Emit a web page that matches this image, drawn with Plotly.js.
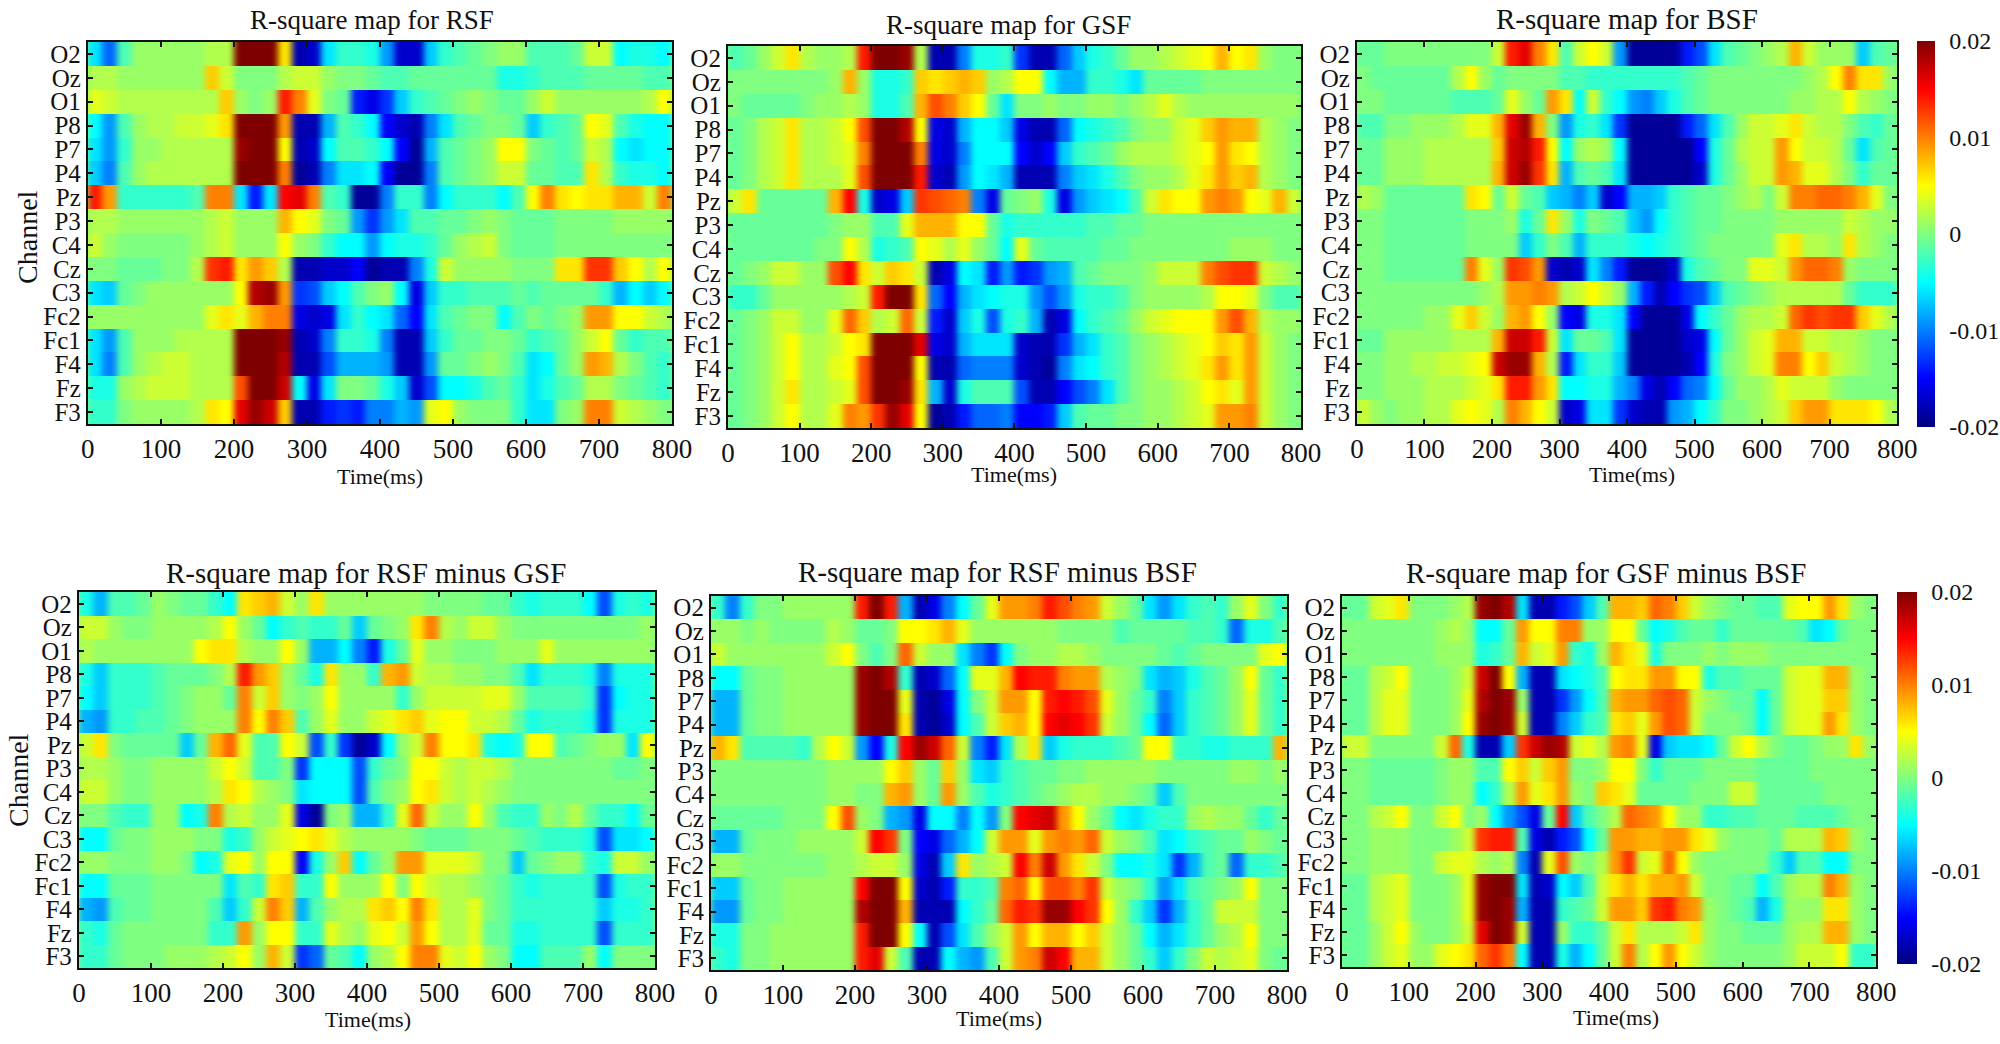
<!DOCTYPE html>
<html><head><meta charset="utf-8">
<script src="https://cdn.plot.ly/plotly-3.0.1.min.js"></script>
<style>html,body{margin:0;padding:0;background:#fff}#c{width:2000px;height:1044px}#c .hm image{filter:url(#hb)}</style></head>
<body><svg width="0" height="0" style="position:absolute"><filter id="hb" x="-5%" y="0%" width="110%" height="100%" color-interpolation-filters="sRGB"><feGaussianBlur stdDeviation="3 0"/></filter></svg><div id="c"></div>
<script>
const channels=["O2","Oz","O1","P8","P7","P4","Pz","P3","C4","Cz","C3","Fc2","Fc1","F4","Fz","F3"];
const times=[10,30,50,70,90,110,130,150,170,190,210,230,250,270,290,310,330,350,370,390,410,430,450,470,490,510,530,550,570,590,610,630,650,670,690,710,730,750,770,790];
const timeTicks=[0,100,200,300,400,500,600,700,800];
const scaleTicks=[-0.02,-0.01,0,0.01,0.02];
const scaleLabels=["-0.02","-0.01","0","0.01","0.02"];
const rsf=[
[-6,-11,-2,1,1,1,1,1,2,2,20,20,20,6,-18,-17,-6,-3,-3,-4,-9,-17,-17,-7,-3,-2,-1,0,1,1,-2,-2,-2,-1,3,3,-5,-4,-4,-5],
[2,2,1,1,1,1,1,1,7,3,0,0,0,2,3,3,1,0,0,-1,-2,-2,-1,-1,-1,-1,-1,-1,-4,-4,-3,-2,-2,-2,-1,-1,-1,-1,-2,-2],
[4,3,2,2,2,2,2,2,2,7,1,0,1,14,10,4,0,-1,-14,-16,-13,-7,-3,-2,-1,0,1,0,-1,-1,1,3,1,1,1,1,1,1,2,5],
[-5,-9,-2,1,2,2,3,3,4,6,20,20,20,9,-18,-18,-8,-2,-3,-5,-15,-17,-18,-10,-6,-2,-1,0,0,-1,-7,-3,-2,-1,5,4,-2,-4,-5,-5],
[-6,-9,-3,1,1,2,2,2,2,2,19,20,20,5,-18,-17,-5,-2,-2,-3,-5,-15,-19,-8,-2,-1,0,1,5,5,0,-1,-2,-1,3,2,-5,-6,-5,-5],
[-7,-10,-2,1,2,2,2,2,2,2,20,20,20,10,-19,-18,-10,-6,-6,-5,-15,-19,-19,-10,-2,-1,0,1,3,3,-1,-1,-2,-2,6,2,-3,-4,-4,-5],
[14,9,-3,-3,-3,-3,-3,-2,10,10,-6,-14,-6,15,16,10,-2,-3,-19,-19,-10,-3,-3,-10,-5,-3,-3,-3,-5,-2,5,10,6,5,6,6,8,8,3,10],
[2,2,1,1,1,1,1,1,2,3,1,1,1,8,5,4,0,-1,-9,-13,-9,-6,-2,-2,-1,-1,0,1,0,-1,-1,-1,0,0,0,0,1,1,1,1],
[3,1,0,0,0,0,0,1,2,3,1,1,1,5,1,0,-3,-5,-5,-9,-5,-4,-4,-3,-1,1,2,3,0,-1,-1,-1,0,0,0,0,0,0,0,0],
[0,0,-1,-1,-1,0,0,2,13,14,6,9,7,2,-18,-18,-17,-17,-15,-19,-18,-18,-10,-4,3,1,1,1,1,0,0,0,6,6,13,13,7,5,2,5],
[-6,-7,-1,0,1,1,1,1,1,1,5,18,19,9,-13,-12,-7,-5,-2,0,1,-5,-16,-7,-3,-3,-2,-2,-2,-1,-2,-1,-1,-1,-1,-3,-8,-5,-7,-5],
[1,1,1,1,1,1,1,1,4,6,4,8,10,10,-16,-17,-16,-6,-3,-5,-6,-11,-15,-6,-2,-1,0,0,-5,-2,0,-1,0,1,9,9,5,5,3,2],
[-6,-9,-2,1,1,1,2,2,2,2,20,20,20,19,-18,-17,-10,-3,-3,-4,-10,-18,-18,-7,-3,-1,-1,0,0,-1,-3,-2,-1,1,3,5,-1,-3,-2,-2],
[-6,-10,-2,1,2,3,3,2,2,2,20,20,20,18,-18,-18,-12,-8,-8,-8,-9,-18,-18,-9,-1,-1,0,1,0,-2,-6,-5,-1,1,9,8,2,0,-2,-3],
[-4,-4,1,2,3,3,3,2,2,2,12,20,20,17,-5,-16,-6,0,0,-1,-4,-7,-17,-12,-5,-5,-4,-2,-1,-3,-6,-4,-2,-1,2,2,0,-1,-2,-3],
[-3,-3,0,1,1,1,1,2,6,5,16,19,17,7,-18,-18,-14,-13,-14,-10,-10,-8,-9,4,5,1,0,0,0,-3,-6,-6,0,1,10,10,3,2,1,0]];
const gsf=[
[-2,-1,1,3,6,2,1,1,2,14,20,20,19,2,-18,-18,-10,-4,-4,-3,-13,-18,-18,-11,-7,-4,-3,-1,1,1,2,3,4,5,8,5,6,1,0,0],
[0,0,0,0,0,0,0,1,8,1,-4,-4,-3,7,6,7,8,7,1,2,5,5,-5,-8,-8,-3,-3,-4,-6,-1,-1,-1,-1,0,0,0,0,0,0,0],
[0,-1,-1,-1,-1,0,1,1,2,1,-4,-4,-2,8,12,10,7,5,-1,-6,0,0,1,0,0,1,1,0,1,2,4,2,1,1,1,1,1,1,1,1],
[-1,0,2,3,6,2,2,3,5,12,20,20,18,5,-16,-17,-8,-5,-5,-7,-16,-18,-18,-11,-5,-4,-3,-2,0,1,1,3,4,7,9,8,8,2,1,0],
[-1,0,2,3,6,2,2,3,4,10,20,20,20,10,-16,-17,-10,-5,-5,-5,-15,-17,-15,-7,-3,-2,-1,1,2,2,2,3,4,5,9,6,5,2,1,0],
[-1,0,2,3,6,2,2,2,4,12,20,20,20,14,-17,-18,-9,-5,-6,-8,-18,-18,-18,-10,-7,-6,-4,-2,0,1,1,2,4,6,9,7,8,2,1,0],
[3,6,-1,-1,-1,-1,-1,8,15,-4,-17,-16,-7,13,12,11,10,-10,-16,-1,0,1,-4,-16,-9,-7,-6,-5,-2,3,6,5,5,9,10,9,5,4,8,3],
[-1,-1,-1,-1,-1,-1,-1,0,1,1,-2,-2,4,8,8,8,5,5,-1,-4,-3,-3,-3,-3,-3,-2,-2,-1,-1,0,0,0,0,0,0,0,0,0,0,0],
[-1,-1,-1,-1,-1,-1,0,0,5,2,-4,-3,-2,5,4,2,4,1,-1,-5,4,-1,-2,-2,-2,-2,-1,-1,0,0,0,0,0,0,0,1,1,1,0,0],
[-1,0,1,3,3,1,1,12,15,6,3,7,6,3,-18,-16,-5,-6,-14,-9,-14,-13,-9,-8,-2,-1,0,0,0,1,3,3,3,10,12,13,13,3,2,1],
[-3,-3,-1,1,1,1,1,1,2,3,14,20,20,6,-11,-15,-8,-6,-5,-4,-4,-9,-12,-9,-4,-3,-3,-2,0,1,1,1,1,2,5,5,4,0,-2,-2],
[-1,0,1,3,3,1,1,4,11,7,2,3,11,3,-14,-17,-7,-4,-12,-4,-3,-8,-18,-16,-5,-3,-2,-1,1,3,4,5,5,5,9,12,8,2,1,1],
[-1,0,1,3,5,2,2,3,5,6,20,20,20,16,-16,-17,-8,-6,-6,-6,-17,-18,-18,-13,-8,-6,-3,-2,0,1,2,3,4,5,7,6,9,3,1,0],
[-1,0,1,3,5,2,2,4,5,12,20,20,20,5,-18,-18,-11,-10,-10,-10,-17,-18,-19,-10,-6,-5,-3,-2,0,1,2,3,4,6,9,6,9,3,1,0],
[-1,0,1,3,6,2,2,3,4,12,20,20,19,6,-8,-17,-4,-2,-2,-2,-12,-18,-18,-15,-12,-10,-6,-2,0,1,1,2,3,5,6,4,9,3,1,0],
[-1,0,1,3,5,2,2,4,10,9,13,19,16,5,-19,-18,-14,-11,-11,-10,-15,-15,-14,-7,-2,-1,-1,0,0,1,1,2,3,4,9,9,10,3,1,0]];
const bsf=[
[-1,-1,0,0,0,0,0,0,0,0,3,14,16,10,6,-2,3,5,3,-9,-19,-19,-19,-19,-14,-12,-6,-2,-1,0,1,2,8,3,1,1,1,-7,-2,-1],
[0,-1,-1,-1,-1,-1,-1,2,5,1,-1,0,0,0,0,-2,-2,-3,-3,-3,-3,-3,-3,-3,-2,-1,0,0,0,0,0,0,0,1,2,5,10,6,6,1],
[0,0,-1,-1,-1,-1,-1,-2,-2,-2,-1,4,1,-1,9,6,-5,3,-3,-5,-9,-10,-7,-4,-2,-1,0,0,0,0,0,0,1,1,2,2,5,2,1,0],
[-2,-2,0,0,1,1,1,2,4,4,8,16,19,8,0,-9,-4,-3,-6,-13,-19,-19,-19,-19,-14,-11,-6,-2,1,3,3,4,6,3,2,2,0,-2,-3,-1],
[-1,-1,1,1,1,2,2,2,2,2,7,17,18,14,5,-5,1,2,1,-5,-19,-19,-19,-19,-19,-15,-4,-1,2,3,3,9,5,3,3,2,-1,-6,-2,-1],
[-1,-1,1,1,1,2,2,2,2,2,8,17,19,13,6,-8,-2,-1,-2,-6,-19,-19,-19,-19,-19,-17,-4,-1,1,3,3,9,8,4,4,2,0,-3,-1,-1],
[2,1,-1,-1,-1,-1,-1,-1,6,5,-1,3,-1,-2,-7,-8,-10,-7,-17,-15,-8,-8,-7,-3,-2,-1,-1,0,1,2,0,3,10,10,11,11,10,8,4,0],
[0,0,-1,-1,-1,-1,-1,-1,0,0,0,1,-4,-1,6,1,-4,0,-1,-2,-7,-9,-5,-3,-2,-1,-1,0,0,0,0,1,1,1,1,1,3,2,1,1],
[0,0,-1,-1,-1,-1,-1,-1,0,0,0,0,-7,-3,0,-2,-8,-3,-3,-3,-4,-5,-4,-3,-2,-1,0,0,0,0,0,4,6,2,2,1,6,2,1,0],
[0,0,-1,-1,-1,-1,-1,-1,10,4,1,13,12,9,-17,-18,-17,-6,-10,-14,-19,-19,-19,-17,-4,-2,-1,0,0,4,4,3,9,11,11,10,1,0,0,0],
[0,0,0,0,0,0,0,0,0,1,2,9,9,10,9,2,3,5,3,1,-8,-14,-18,-15,-13,-12,-7,-2,-1,0,1,2,2,2,2,2,-1,-3,-3,-3],
[0,0,0,0,0,1,1,4,7,3,1,8,9,5,1,-15,-16,-4,-4,-6,-15,-19,-19,-19,-16,-5,-3,-1,1,2,2,3,11,13,12,13,13,7,4,2],
[-1,-1,1,1,1,1,1,2,2,2,8,17,17,14,3,-6,-1,-1,-2,-6,-19,-19,-19,-19,-17,-16,-5,-1,1,3,4,8,8,3,3,2,2,1,0,0],
[0,0,1,1,2,2,3,3,4,5,17,19,19,8,2,-14,-6,-3,-3,-7,-19,-19,-19,-19,-18,-15,-4,0,1,3,4,10,10,5,7,3,2,1,0,0],
[0,0,1,1,1,2,2,2,3,4,6,14,14,9,6,-5,-5,-4,-4,-8,-10,-16,-18,-15,-11,-10,-5,-1,1,1,2,4,3,3,3,1,0,0,0,0],
[3,1,0,1,1,2,2,4,5,4,2,10,8,5,3,-17,-16,-6,-6,-13,-17,-18,-18,-9,-8,-5,-3,0,0,1,2,3,7,9,9,6,6,6,5,2]];
const rsfMinusGsf=[
[-4,-8,-2,-2,-1,1,0,-1,-1,-3,-5,6,7,8,3,1,6,1,1,1,1,1,1,1,0,0,0,0,-1,-1,-3,-4,-3,-3,-3,-5,-12,-4,-3,-4],
[3,3,1,0,0,1,1,1,1,2,5,1,-1,-5,-3,-2,-3,-3,-1,-7,-1,0,1,6,10,2,1,3,3,1,0,0,0,0,0,0,0,0,0,1],
[2,1,1,1,1,1,1,1,5,6,6,2,1,1,5,1,-8,-8,-5,-10,-14,-4,-1,4,1,1,0,0,0,1,1,1,4,1,1,1,1,1,1,1],
[-4,-7,-3,-3,-3,-2,-1,-1,-1,0,2,14,9,7,1,-1,-4,6,1,1,-3,8,9,3,2,2,1,1,0,0,-2,-6,-3,-3,-3,-4,-10,-4,-4,-4],
[-5,-7,-3,-3,-3,-2,-1,0,1,1,-1,10,3,7,1,0,1,5,1,1,1,1,-3,1,3,3,3,3,4,4,1,-2,-2,-2,-2,-3,-13,-5,-4,-4],
[-8,-9,-3,-3,-2,-2,-1,0,1,1,1,10,5,10,7,-2,1,4,1,1,3,4,6,7,4,5,5,3,3,2,-1,-4,-3,-3,-3,-4,-13,-4,-4,-4],
[3,6,0,-1,-1,-1,-1,-7,-1,8,11,4,-2,-2,5,3,-12,-3,-13,-19,-17,-5,1,3,10,5,5,6,-4,-5,-4,5,5,-2,-1,0,1,1,-6,5],
[2,2,1,0,0,1,1,1,1,3,5,3,-2,-2,0,-13,-5,-5,-5,-12,-3,-1,0,5,5,3,2,3,3,2,0,0,0,0,0,0,0,-1,-1,0],
[3,3,1,0,0,1,1,1,1,2,6,5,2,1,0,-6,-5,-5,-5,-12,-2,0,1,5,6,3,2,3,2,1,0,0,0,0,0,0,0,0,0,0],
[0,0,-2,-3,-3,1,1,-5,-4,10,2,3,1,1,4,-16,-19,0,1,-8,-8,-3,4,11,3,1,1,5,1,-2,-3,-3,1,0,2,-1,-3,-3,-5,-1],
[-5,-5,-1,0,0,1,1,1,0,0,-4,-3,1,3,4,5,6,4,2,1,1,1,1,0,-1,-1,-1,0,0,0,-1,-2,-3,-3,-3,-4,-12,-6,-6,-5],
[1,1,0,0,0,1,1,0,-5,-4,4,5,1,5,5,-15,-4,1,7,-5,-1,1,9,9,4,4,4,3,0,0,-7,-1,0,1,1,-3,-4,3,3,1],
[-5,-5,-1,-1,-1,0,0,0,0,0,-6,-2,-3,6,7,-3,-3,5,1,1,1,5,0,5,3,2,2,1,0,-1,-3,-4,-3,-3,-3,-3,-12,-4,-3,-3],
[-8,-9,-2,-1,-1,0,0,0,0,-2,-7,-3,3,10,7,-8,-2,1,2,2,6,7,5,10,6,2,2,4,0,-1,-3,-3,-3,-3,-3,-3,-7,-4,-4,-3],
[-3,-4,-1,0,0,0,0,0,0,-3,-3,9,1,5,5,-3,-3,4,2,1,4,5,3,9,5,2,2,4,-1,-1,-4,-4,-3,-3,-3,-3,-12,-3,-3,-3],
[-3,-3,-1,0,0,0,1,1,1,2,3,5,1,8,3,-13,-11,-1,-2,-5,1,2,5,10,10,4,3,5,1,0,-5,-5,-2,-2,-2,1,-5,0,0,0]];
const rsfMinusBsf=[
[-3,-10,-3,0,0,1,1,1,1,1,14,20,14,-8,-18,-16,-10,-5,-1,4,9,9,10,14,12,10,9,3,1,-1,-6,-9,-6,-3,-2,-3,1,4,0,-3],
[1,1,0,1,0,0,0,0,2,1,-1,-1,0,5,5,6,8,4,1,1,1,1,1,1,0,0,0,0,-2,-1,-1,-1,-1,-2,-2,-3,-11,-4,-4,-2],
[3,1,1,1,1,1,1,1,3,5,0,-2,0,11,3,1,1,-6,-10,-13,-5,0,1,1,2,2,1,0,0,0,0,-1,-2,-1,0,0,0,0,4,5],
[-5,-5,-1,0,0,1,1,1,1,1,19,20,18,-3,-18,-17,-11,-5,4,4,8,15,14,14,10,9,9,2,1,0,-6,-8,-7,-4,-2,-1,1,5,-1,-3],
[-8,-8,-1,0,0,1,1,1,1,1,19,20,20,4,-18,-19,-16,-5,0,3,9,9,5,14,15,14,12,4,1,-1,-3,-10,-7,-3,-2,-1,1,4,-1,-3],
[-8,-8,-1,0,0,1,1,1,1,1,19,20,20,6,-18,-19,-17,-5,-2,3,7,8,5,15,16,15,13,3,1,-1,-5,-11,-7,-3,-2,-1,1,4,-1,-3],
[8,6,-2,-2,-2,-2,-3,2,5,3,-9,-15,-4,15,19,17,11,3,-10,-14,-6,2,6,-7,-4,-3,-3,-3,-2,-1,5,5,-3,-3,-4,-4,-3,-3,-3,8],
[0,0,0,0,0,0,0,0,1,1,1,1,5,7,1,-1,7,1,-6,-7,-3,-2,-1,-1,0,0,1,1,1,1,1,0,0,0,0,0,1,1,0,1],
[0,0,0,0,0,0,0,0,1,1,0,0,8,9,1,-1,9,1,-2,-4,-3,-2,-1,0,1,2,2,1,1,0,-1,-7,-2,0,0,0,0,0,0,0],
[-1,-1,-1,-1,-1,0,0,0,5,12,1,0,-8,-9,-16,-5,-5,-10,-5,-9,0,15,16,17,9,5,1,-1,-5,-6,-4,-3,-3,1,2,1,1,-1,-3,-1],
[-8,-8,-1,0,0,0,1,1,1,1,3,15,13,0,-15,-16,-11,-8,-5,3,9,9,4,9,10,9,11,3,1,0,-2,-6,-5,-3,-2,-1,-1,1,0,-1],
[1,1,0,0,0,0,0,0,1,1,2,3,3,1,-16,-18,-7,6,1,2,3,15,10,17,9,6,3,0,-5,-5,-4,-6,-13,-8,-2,-1,-11,-3,-3,-2],
[-7,-7,-1,0,0,1,1,1,1,1,15,20,20,5,-17,-18,-14,-3,-3,-2,10,11,5,12,12,10,13,3,1,0,-3,-9,-6,-2,-1,0,1,5,0,0],
[-9,-9,-1,0,0,1,1,1,1,1,18,20,20,8,-18,-18,-18,-5,-3,-1,11,14,13,19,19,15,13,5,1,-3,-7,-13,-8,-3,-1,3,3,3,0,0],
[-4,-4,0,0,1,1,1,1,1,1,14,20,20,5,-5,-18,-12,-6,-2,1,3,9,5,8,8,5,7,3,1,-1,-5,-8,-6,-3,-1,1,2,5,0,0],
[-3,-4,0,0,1,1,1,1,1,1,14,16,3,-2,-18,-18,-5,-8,-9,-2,3,9,10,17,15,8,8,3,1,-1,-3,-7,-3,0,3,2,3,4,0,-1]];
const gsfMinusBsf=[
[-1,-1,3,4,6,0,0,0,1,2,19,20,18,-6,-18,-18,-14,-12,-7,-2,8,8,7,11,10,7,3,1,0,-1,-1,-2,-2,4,5,5,9,6,1,0],
[0,0,0,0,0,0,0,1,2,1,-5,-5,-1,9,5,5,10,10,1,1,5,5,-1,-5,-4,-2,-1,-1,-3,-1,-1,-1,-1,-1,-2,-6,-5,-1,0,0],
[0,0,0,0,0,0,0,1,1,1,-4,-3,-1,8,3,4,9,-3,-4,1,8,6,4,-4,0,0,0,1,0,1,1,1,0,0,0,0,0,0,0,0],
[-1,-1,2,3,5,0,0,0,1,3,17,20,5,-8,-18,-18,-6,-5,-4,-2,5,6,6,9,9,5,5,-4,-2,-2,-1,-1,-1,3,4,4,8,8,1,0],
[-1,-1,2,4,4,0,0,0,1,4,18,20,19,1,-18,-18,-13,-9,-5,-2,8,9,9,11,12,11,3,1,0,-1,-1,-5,-1,3,4,4,7,7,1,0],
[-1,-1,2,4,4,0,0,0,1,5,19,20,19,3,-18,-18,-10,-7,-3,-2,6,7,4,9,12,11,3,0,0,0,-1,-5,-1,3,4,4,9,6,1,0],
[3,3,0,0,0,0,0,3,11,-4,-18,-18,-7,13,17,19,18,3,4,2,9,10,4,-16,-7,-6,-6,-5,-1,3,5,2,0,-1,-1,0,1,1,6,1],
[0,0,-1,-1,-1,-1,-1,0,1,1,-2,-2,5,7,3,7,9,0,0,1,5,5,0,-3,-1,-1,-1,0,0,0,0,-1,-1,-1,-1,0,0,0,0,0],
[0,0,-1,-1,-1,-1,-1,0,1,1,-5,-3,2,9,4,6,9,1,0,7,6,4,-1,-1,-1,-1,0,0,0,3,3,-1,-1,-1,-1,-1,0,0,0,0],
[0,0,2,3,5,0,0,3,5,0,1,-5,-9,-12,-16,-1,15,-7,-2,0,2,11,10,9,5,1,1,-3,-3,-2,-2,-1,-1,-1,-2,-2,-2,-1,0,0],
[0,0,1,1,1,0,0,0,1,3,13,14,14,-2,-16,-18,-14,-12,-5,-1,9,9,8,8,9,9,6,4,1,0,0,0,-1,2,2,2,8,7,1,0],
[0,0,1,1,1,0,0,3,4,4,2,1,2,-10,-18,4,12,1,0,2,9,13,3,4,11,5,1,0,0,0,0,0,-3,-7,-2,-2,-5,-5,0,0],
[-1,-1,2,3,4,0,0,0,1,4,19,20,20,-6,-18,-17,-5,-7,-2,3,6,8,6,8,8,9,3,0,0,-1,-1,-5,-2,1,2,2,10,8,1,0],
[-1,-1,2,3,4,0,0,0,1,4,19,20,19,-8,-18,-18,-3,-2,-1,3,9,9,7,13,14,10,9,1,0,-1,-2,-8,-4,1,1,1,6,6,1,0],
[-1,-1,1,3,5,1,0,0,1,3,16,20,19,3,-18,-18,1,-3,-3,-1,3,6,2,2,2,3,6,1,0,0,-1,-1,-1,1,2,2,8,8,1,0],
[-1,-1,1,3,4,1,1,4,5,6,11,13,10,-5,-18,-18,-4,-8,-5,-1,3,10,2,5,9,5,3,1,0,0,0,0,0,1,3,3,3,5,-3,-3]];
const titles=["R-square map for RSF","R-square map for GSF","R-square map for BSF","R-square map for RSF minus GSF","R-square map for RSF minus BSF","R-square map for GSF minus BSF"];
const panels=[rsf,gsf,bsf,rsfMinusGsf,rsfMinusBsf,gsfMinusBsf];

const W=2000,H=1044;
const boxes=[[88,673,42,424],[729,1303,46,428],[1359,1900,42,424],[79,656,592,968],[712,1289,596,970],[1344,1879,596,967]];
const titlePos=[[373,20],[1010,25],[1629,19],[367,573],[999,572],[1608,573]];
const xLabelPos=[[381,477],[1016,475],[1634,475],[369,1019],[1001,1018],[1618,1017]];
const FONT="Liberation Serif";
const ink="#111";
const jet=[[0,"rgb(0,0,127)"],[0.125,"rgb(0,0,255)"],[0.375,"rgb(0,255,255)"],[0.625,"rgb(255,255,0)"],[0.875,"rgb(255,0,0)"],[1,"rgb(127,0,0)"]];
const bars={2:{left:1920,right:1938,top:41,bottom:427},5:{left:1900,right:1920,top:592,bottom:964}};

const traces=[],annotations=[];
const layout={width:W,height:H,margin:{l:0,r:0,t:0,b:0},paper_bgcolor:"#fff",plot_bgcolor:"#80ff80",showlegend:false,font:{family:FONT,color:ink}};
panels.forEach((p,i)=>{
  const n=i===0?"":String(i+1), b=boxes[i];
  const tr={type:"heatmap",x:times,y:channels,z:p.map(r=>r.map(v=>v/1000)),xaxis:"x"+n,yaxis:"y"+n,
    zmin:-0.02,zmax:0.02,colorscale:jet,zsmooth:false,showscale:i in bars};
  if(bars[i]){const c=bars[i];tr.colorbar={x:c.left/W,xanchor:"left",xpad:0,y:1-c.bottom/H,yanchor:"bottom",ypad:0,
    lenmode:"pixels",len:c.bottom-c.top,thicknessmode:"pixels",thickness:c.right-c.left,outlinewidth:0,borderwidth:0,
    tickmode:"array",tickvals:scaleTicks,ticktext:scaleLabels,ticks:"outside",ticklen:10,tickcolor:"rgba(0,0,0,0)",tickfont:{family:FONT,size:24,color:ink}};}
  traces.push(tr);
  layout["xaxis"+n]={domain:[b[0]/W,b[1]/W],range:[0,800],anchor:"y"+n,tickmode:"array",tickvals:timeTicks,ticktext:timeTicks.map(String),
    ticks:"inside",ticklen:5,tickwidth:2,tickcolor:ink,showline:true,linecolor:ink,linewidth:2,mirror:"ticks",showgrid:false,zeroline:false,
    tickfont:{family:FONT,size:27,color:ink},tickangle:0};
  layout["yaxis"+n]={domain:[1-b[3]/H,1-b[2]/H],type:"category",categoryorder:"array",categoryarray:channels,autorange:"reversed",anchor:"x"+n,
    ticks:"inside",ticklen:5,tickwidth:2,tickcolor:ink,showline:true,linecolor:ink,linewidth:2,mirror:"ticks",showgrid:false,zeroline:false,
    tickfont:{family:FONT,size:25,color:ink},tickangle:0,dtick:1};
  annotations.push({xref:"paper",yref:"paper",x:titlePos[i][0]/W,y:1-titlePos[i][1]/H,text:titles[i],showarrow:false,xanchor:"center",yanchor:"middle",font:{family:FONT,size:i<2?27:29,color:ink}});
  annotations.push({xref:"paper",yref:"paper",x:xLabelPos[i][0]/W,y:1-xLabelPos[i][1]/H,text:"Time(ms)",showarrow:false,xanchor:"center",yanchor:"middle",font:{family:FONT,size:22,color:ink}});
});
annotations.push({xref:"paper",yref:"paper",x:27/W,y:1-237/H,text:"Channel",textangle:-90,showarrow:false,xanchor:"center",yanchor:"middle",font:{family:FONT,size:28,color:ink}});
annotations.push({xref:"paper",yref:"paper",x:18/W,y:1-780/H,text:"Channel",textangle:-90,showarrow:false,xanchor:"center",yanchor:"middle",font:{family:FONT,size:28,color:ink}});
layout.annotations=annotations;
Plotly.newPlot("c",traces,layout,{displayModeBar:false,responsive:false});
</script></body></html>
